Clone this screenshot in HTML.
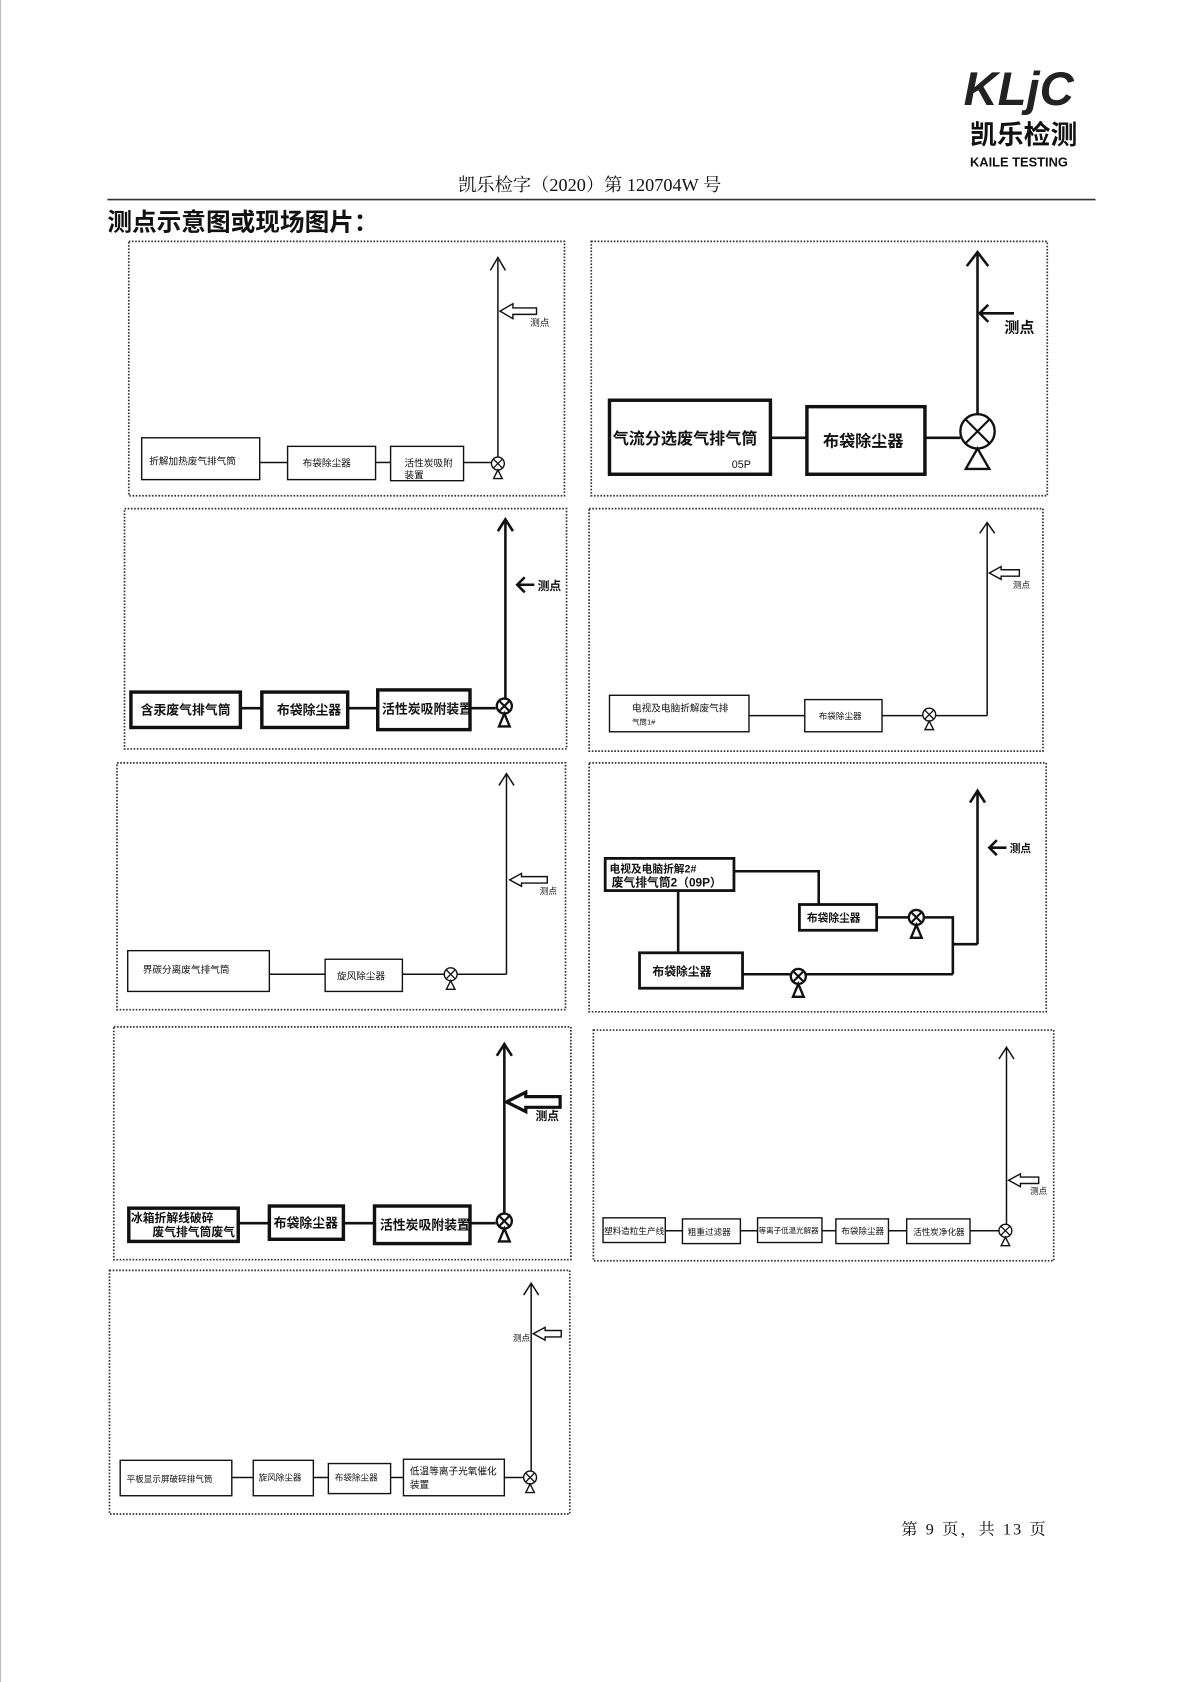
<!DOCTYPE html>
<html><head><meta charset="utf-8"><style>
html,body{margin:0;padding:0;background:#fff;}
svg{display:block;}
text{font-family:"Liberation Sans","Noto Sans CJK SC",sans-serif;fill:#111;}
.s{font-family:"Liberation Serif","Noto Serif CJK SC",serif;}
.pn{fill:none;stroke:#333;stroke-width:1.6;stroke-dasharray:1.5 1.5;}
.b1{fill:#fff;stroke:#111;stroke-width:1.3;}
.b2{fill:#fff;stroke:#111;stroke-width:2.6;}
.b3{fill:#fff;stroke:#111;stroke-width:3.2;}
.l{stroke:#111;stroke-width:1.4;fill:none;}
.l2{stroke:#111;stroke-width:2.4;fill:none;}
</style></head><body>
<svg width="1190" height="1682" viewBox="0 0 1109 1567.6" xmlns="http://www.w3.org/2000/svg">
<defs>
<g id="v"><circle cx="0" cy="0" r="6" fill="#fff" stroke="#111" stroke-width="1.3"/><path d="M-4.2,-4.2L4.2,4.2M4.2,-4.2L-4.2,4.2" stroke="#111" stroke-width="1.2"/><path d="M0,6L-4,14L4,14Z" fill="#fff" stroke="#111" stroke-width="1.3"/></g>
<g id="vb"><circle cx="0" cy="0" r="7" fill="#fff" stroke="#111" stroke-width="2.2"/><path d="M-5,-5L5,5M5,-5L-5,5" stroke="#111" stroke-width="2"/><path d="M0,7L-5,19L5,19Z" fill="#fff" stroke="#111" stroke-width="2.2"/></g>
</defs>
<rect x="0" y="0" width="1109" height="1568" fill="#fff"/>
<line x1="0.5" y1="0" x2="0.5" y2="1568" stroke="#bbb" stroke-width="1"/>
<!-- header -->
<text x="898" y="98" font-size="44" font-weight="bold" font-style="italic" fill="#222" style="fill:#222">KLjC</text>
<text x="904" y="134" font-size="25" font-weight="bold">凯乐检测</text>
<text x="904" y="155" font-size="12" font-weight="bold">KAILE TESTING</text>
<text x="427" y="178" font-size="17" class="s">凯乐检字（2020）第 120704W 号</text>
<line x1="100" y1="186" x2="1021" y2="186" stroke="#333" stroke-width="1.6"/>
<text x="100" y="215" font-size="23" font-weight="bold">测点示意图或现场图片：</text>

<!-- P1 -->
<rect class="pn" x="120" y="225" width="406" height="237"/>
<line class="l" x1="242" y1="431" x2="268" y2="431"/><line class="l" x1="350" y1="431" x2="364" y2="431"/><line class="l" x1="432" y1="431" x2="458" y2="431"/>
<rect class="b1" x="132" y="408" width="110" height="39"/><text x="139" y="433" font-size="9">折解加热废气排气筒</text>
<rect class="b1" x="268" y="416" width="82" height="31"/><text x="282" y="435" font-size="9">布袋除尘器</text>
<rect class="b1" x="364" y="416" width="68" height="32"/><text x="377" y="435" font-size="9">活性炭吸附</text><text x="377" y="446" font-size="9">装置</text>
<line class="l" x1="464" y1="242" x2="464" y2="426"/><path class="l" d="M457,252L464,240L471,252"/>
<use href="#v" x="464" y="432"/>
<polygon points="466,290 478,283 478,287 500,287 500,293 478,293 478,297" fill="#fff" stroke="#111" stroke-width="1.3"/>
<text x="494" y="304" font-size="9">测点</text>

<!-- P2 -->
<rect class="pn" x="551" y="225" width="425" height="237"/>
<line class="l2" x1="718" y1="408" x2="752" y2="408"/><line class="l2" x1="862" y1="408" x2="895" y2="408"/>
<rect class="b3" x="568" y="373" width="150" height="69"/><text x="571" y="414" font-size="15" font-weight="bold">气流分选废气排气筒</text><text x="682" y="436" font-size="10">05P</text>
<rect class="b3" x="752" y="379" width="110" height="63"/><text x="767" y="416" font-size="15" font-weight="bold">布袋除尘器</text>
<line class="l2" x1="911" y1="237" x2="911" y2="386"/><path class="l2" d="M901,248L911,235L921,248"/>
<circle cx="911" cy="402" r="16" fill="#fff" stroke="#111" stroke-width="2.2"/><path d="M900,391L922,413M922,391L900,413" stroke="#111" stroke-width="2"/><path d="M911,418L900,437L922,437Z" fill="#fff" stroke="#111" stroke-width="2.2"/>
<line class="l2" x1="913" y1="292" x2="945" y2="292"/><path class="l2" d="M921,284L913,292L921,300"/>
<text x="936" y="310" font-size="14" font-weight="bold">测点</text>

<!-- P3 -->
<rect class="pn" x="116" y="474" width="412" height="224"/>
<line class="l2" x1="224" y1="660" x2="244" y2="660"/><line class="l2" x1="324" y1="660" x2="352" y2="660"/><line class="l2" x1="438" y1="660" x2="462" y2="660"/>
<rect class="b3" x="122" y="645" width="102" height="33"/><text x="131" y="666" font-size="12" font-weight="bold">含汞废气排气筒</text>
<rect class="b3" x="244" y="645" width="80" height="33"/><text x="258" y="666" font-size="12" font-weight="bold">布袋除尘器</text>
<rect class="b3" x="352" y="643" width="86" height="37"/><text x="356" y="665" font-size="12" font-weight="bold">活性炭吸附装置</text>
<line class="l2" x1="471" y1="484" x2="471" y2="651"/><path class="l2" d="M464,495L471,484L478,495"/>
<use href="#vb" x="470" y="658"/>
<line class="l2" x1="482" y1="545" x2="498" y2="545"/><path class="l2" d="M489,538L482,545L489,552"/>
<text x="501" y="550" font-size="11" font-weight="bold">测点</text>

<!-- P4 -->
<rect class="pn" x="549" y="474" width="423" height="226"/>
<line class="l" x1="698" y1="667" x2="750" y2="667"/><line class="l" x1="822" y1="667" x2="860" y2="667"/><line class="l" x1="872" y1="667" x2="920" y2="667"/>
<rect class="b1" x="568" y="648" width="130" height="34"/><text x="589" y="663" font-size="9">电视及电脑折解废气排</text><text x="589" y="675" font-size="7">气筒1#</text>
<rect class="b1" x="750" y="652" width="72" height="30"/><text x="763" y="670" font-size="8">布袋除尘器</text>
<use href="#v" x="866" y="666"/>
<line class="l" x1="920" y1="488" x2="920" y2="667"/><path class="l" d="M913,497L920,487L927,497"/>
<polygon points="922,534 933,528 933,531 950,531 950,537 933,537 933,540" fill="#fff" stroke="#111" stroke-width="1.3"/>
<text x="944" y="548" font-size="8">测点</text>

<!-- P5 -->
<rect class="pn" x="109" y="711" width="418" height="230"/>
<line class="l" x1="251" y1="908" x2="303" y2="908"/><line class="l" x1="375" y1="908" x2="414" y2="908"/><line class="l" x1="426" y1="908" x2="472" y2="908"/>
<rect class="b1" x="119" y="886" width="132" height="38"/><text x="133" y="907" font-size="9">界碳分离废气排气筒</text>
<rect class="b1" x="303" y="894" width="72" height="30"/><text x="314" y="913" font-size="9">旋风除尘器</text>
<use href="#v" x="420" y="908"/>
<line class="l" x1="472" y1="722" x2="472" y2="908"/><path class="l" d="M465,732L472,721L479,732"/>
<polygon points="475,820 486,814 486,817 510,817 510,823 486,823 486,826" fill="#fff" stroke="#111" stroke-width="1.3"/>
<text x="503" y="833" font-size="8">测点</text>

<!-- P6 -->
<rect class="pn" x="549" y="711" width="426" height="232"/>
<path class="l2" d="M684,812L763,812L763,843"/><line class="l2" x1="632" y1="830" x2="632" y2="888"/>
<path class="l2" d="M817,855L848,855M860,855L888,855L888,908M888,880L911,880"/>
<path class="l2" d="M692,908L738,908M750,908L888,908"/>
<rect class="b2" x="564" y="800" width="120" height="30"/><text x="568" y="813" font-size="10" font-weight="bold">电视及电脑折解2#</text><text x="570" y="826" font-size="11" font-weight="bold">废气排气筒2（09P）</text>
<rect class="b2" x="745" y="843" width="72" height="24"/><text x="752" y="859" font-size="10" font-weight="bold">布袋除尘器</text>
<rect class="b2" x="596" y="888" width="96" height="33"/><text x="608" y="909" font-size="11" font-weight="bold">布袋除尘器</text>
<use href="#vb" x="854" y="855"/><use href="#vb" x="744" y="910"/>
<line class="l2" x1="911" y1="738" x2="911" y2="880"/><path class="l2" d="M904,748L911,737L918,748"/>
<line class="l2" x1="922" y1="790" x2="938" y2="790"/><path class="l2" d="M929,783L922,790L929,797"/>
<text x="941" y="794" font-size="10" font-weight="bold">测点</text>

<!-- P7 -->
<rect class="pn" x="106" y="957" width="426" height="217"/>
<line class="l2" x1="222" y1="1140" x2="251" y2="1140"/><line class="l2" x1="320" y1="1140" x2="349" y2="1140"/><line class="l2" x1="438" y1="1140" x2="462" y2="1140"/>
<rect class="b3" x="120" y="1126" width="102" height="31"/><text x="122" y="1139" font-size="11" font-weight="bold">冰箱折解线破碎</text><text x="142" y="1152" font-size="11" font-weight="bold">废气排气筒废气</text>
<rect class="b3" x="251" y="1124" width="69" height="31"/><text x="255" y="1144" font-size="12" font-weight="bold">布袋除尘器</text>
<rect class="b3" x="349" y="1124" width="89" height="35"/><text x="354" y="1146" font-size="12" font-weight="bold">活性炭吸附装置</text>
<line class="l2" x1="470" y1="973" x2="470" y2="1131"/><path class="l2" d="M463,984L470,973L477,984"/>
<use href="#vb" x="470" y="1138"/>
<polygon points="472,1027 490,1018 490,1022 522,1022 522,1032 490,1032 490,1036" fill="#fff" stroke="#111" stroke-width="3"/>
<text x="499" y="1044" font-size="11" font-weight="bold">测点</text>

<!-- P8 -->
<rect class="pn" x="553" y="960" width="429" height="215"/>
<line class="l" x1="620" y1="1147" x2="636" y2="1147"/><line class="l" x1="690" y1="1147" x2="706" y2="1147"/><line class="l" x1="766" y1="1147" x2="779" y2="1147"/><line class="l" x1="828" y1="1147" x2="845" y2="1147"/><line class="l" x1="904" y1="1147" x2="931" y2="1147"/>
<rect class="b1" x="562" y="1135" width="58" height="23"/><text x="563" y="1150" font-size="8">塑料造粒生产线</text>
<rect class="b1" x="636" y="1136" width="54" height="23"/><text x="641" y="1151" font-size="8">粗重过滤器</text>
<rect class="b1" x="706" y="1135" width="60" height="23"/><text x="707" y="1149" font-size="7">等离子低温光解器</text>
<rect class="b1" x="779" y="1136" width="49" height="23"/><text x="784" y="1150" font-size="8">布袋除尘器</text>
<rect class="b1" x="845" y="1136" width="59" height="23"/><text x="851" y="1151" font-size="8">活性炭净化器</text>
<use href="#v" x="937" y="1147"/>
<line class="l" x1="938" y1="977" x2="938" y2="1141"/><path class="l" d="M931,987L938,976L945,987"/>
<polygon points="940,1100 951,1094 951,1097 968,1097 968,1103 951,1103 951,1106" fill="#fff" stroke="#111" stroke-width="1.3"/>
<text x="960" y="1113" font-size="8">测点</text>

<!-- P9 -->
<rect class="pn" x="102" y="1184" width="429" height="227"/>
<line class="l" x1="216" y1="1377" x2="236" y2="1377"/><line class="l" x1="292" y1="1377" x2="306" y2="1377"/><line class="l" x1="364" y1="1377" x2="376" y2="1377"/><line class="l" x1="470" y1="1377" x2="488" y2="1377"/>
<rect class="b1" x="112" y="1361" width="104" height="33"/><text x="118" y="1381" font-size="8">平板显示屏破碎排气筒</text>
<rect class="b1" x="236" y="1361" width="56" height="33"/><text x="241" y="1380" font-size="8">旋风除尘器</text>
<rect class="b1" x="306" y="1364" width="58" height="28"/><text x="312" y="1380" font-size="8">布袋除尘器</text>
<rect class="b1" x="376" y="1360" width="94" height="34"/><text x="382" y="1374" font-size="9">低温等离子光氧催化</text><text x="382" y="1387" font-size="9">装置</text>
<use href="#v" x="494" y="1377"/>
<line class="l" x1="495" y1="1197" x2="495" y2="1371"/><path class="l" d="M488,1207L495,1196L502,1207"/>
<polygon points="497,1243 508,1237 508,1240 523,1240 523,1246 508,1246 508,1249" fill="#fff" stroke="#111" stroke-width="1.3"/>
<text x="478" y="1250" font-size="8">测点</text>

<!-- footer -->
<text x="840" y="1430" font-size="15" class="s" letter-spacing="2">第 9 页，共 13 页</text>
</svg>
</body></html>
